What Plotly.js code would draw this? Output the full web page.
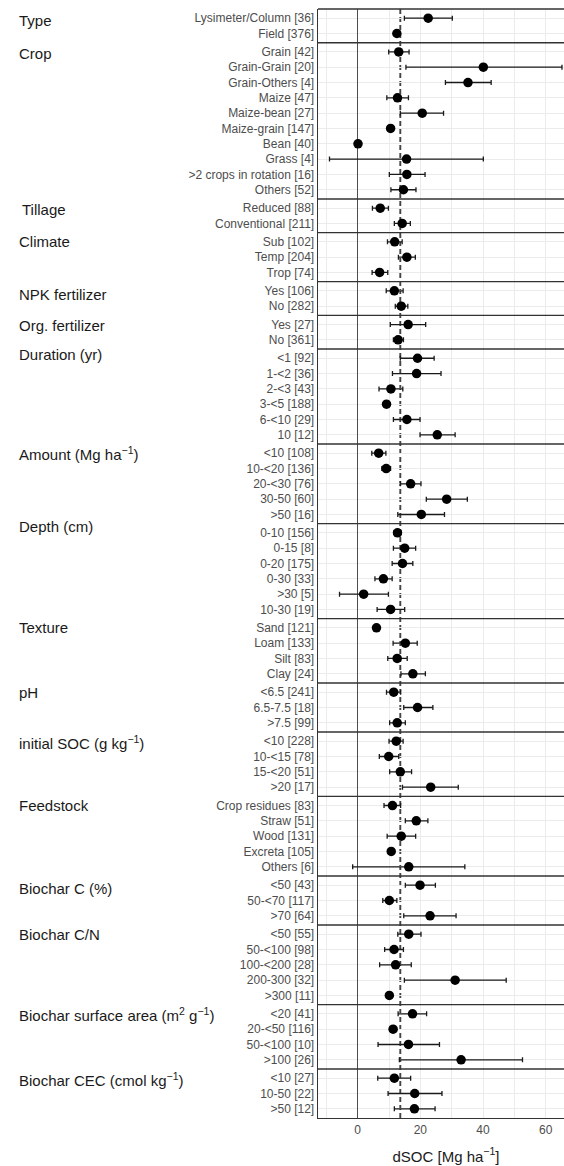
<!DOCTYPE html>
<html><head><meta charset="utf-8">
<script src="https://cdn.plot.ly/plotly-3.0.1.min.js"></script>
<style>html,body{margin:0;padding:0;overflow:hidden;background:#fff;width:564px;height:1166px;} #chart{width:574px;height:1166px;}</style>
</head><body><div id="chart"></div>
<script>
const groups = ["Type","Crop","Tillage","Climate","NPK fertilizer","Org. fertilizer","Duration (yr)",
  "Amount (Mg ha<sup>−1</sup>)","Depth (cm)","Texture","pH","initial SOC (g kg<sup>−1</sup>)","Feedstock",
  "Biochar C (%)","Biochar C/N","Biochar surface area (m<sup>2</sup> g<sup>−1</sup>)","Biochar CEC (cmol kg<sup>−1</sup>)"];
const groupSizes = [2,10,2,3,2,2,6,5,6,4,3,4,5,3,5,4,3];
const categories = [
  "Lysimeter/Column","Field",
  "Grain","Grain-Grain","Grain-Others","Maize","Maize-bean","Maize-grain","Bean","Grass",">2 crops in rotation","Others",
  "Reduced","Conventional",
  "Sub","Temp","Trop",
  "Yes","No",
  "Yes","No",
  "<1","1-<2","2-<3","3-<5","6-<10","10",
  "<10","10-<20","20-<30","30-50",">50",
  "0-10","0-15","0-20","0-30",">30","10-30",
  "Sand","Loam","Silt","Clay",
  "<6.5","6.5-7.5",">7.5",
  "<10","10-<15","15-<20",">20",
  "Crop residues","Straw","Wood","Excreta","Others",
  "<50","50-<70",">70",
  "<50","50-<100","100-<200","200-300",">300",
  "<20","20-<50","50-<100",">100",
  "<10","10-50",">50"];
const counts = [36,376, 42,20,4,47,27,147,40,4,16,52, 88,211, 102,204,74, 106,282, 27,361,
  92,36,43,188,29,12, 108,136,76,60,16, 156,8,175,33,5,19, 121,133,83,24, 241,18,99,
  228,78,51,17, 83,51,131,105,6, 43,117,64, 55,98,28,32,11, 41,116,10,26, 27,22,12];
const meanSOC = [22.5,12.5,
  13.1,40.1,35.2,12.7,20.6,10.5,0.1,15.6,15.7,14.6,
  7.2,14.2,
  11.8,15.7,7.0,
  11.7,13.9,
  16.1,12.9,
  19.1,18.8,10.6,9.2,15.7,25.4,
  6.7,9.1,16.9,28.4,20.3,
  12.7,15.0,14.3,8.2,1.9,10.5,
  6.0,15.2,12.6,17.6,
  11.5,19.1,12.6,
  12.3,9.9,13.6,23.3,
  11.1,18.7,13.9,10.7,16.3,
  19.9,10.1,23.1,
  16.3,11.6,12.1,31.1,10.1,
  17.5,11.3,16.2,33.0,
  11.7,18.2,18.1];
const lowerCI = [14.9,11.5,
  9.9,15.4,28.0,9.3,13.6,9.6,-0.3,-9.0,10.1,10.6,
  4.7,11.7,
  9.5,13.0,4.6,
  9.1,12.0,
  10.4,11.4,
  13.6,11.1,6.8,8.3,11.4,19.9,
  4.5,7.7,13.6,21.9,12.8,
  11.5,11.4,11.0,5.5,-5.8,6.2,
  5.2,11.3,9.6,13.8,
  9.2,14.7,10.2,
  10.0,6.9,10.2,14.3,
  8.4,15.2,9.4,10.1,-1.6,
  15.2,8.0,14.7,
  12.8,8.6,7.0,14.9,9.5,
  12.9,10.2,6.5,13.3,
  6.4,9.7,11.7];
const upperCI = [30.2,13.5,
  16.4,65.2,42.6,16.2,27.4,11.4,0.5,40.1,21.5,18.6,
  9.8,16.8,
  14.2,18.4,9.6,
  14.5,16.0,
  21.7,14.6,
  24.4,26.6,14.4,10.1,19.9,31.1,
  9.0,10.5,20.2,35.0,27.7,
  13.9,18.5,17.6,11.0,9.8,15.0,
  6.8,19.0,15.8,21.6,
  13.7,24.0,15.2,
  14.5,13.1,17.2,32.1,
  13.7,22.4,18.5,11.3,34.2,
  24.8,12.5,31.4,
  20.2,14.6,17.1,47.4,10.7,
  22.0,12.4,26.1,52.6,
  16.9,26.9,24.7];
const overallMean = [13.6];
const xTicks = [0,20,40,60];
const xTitle = "dSOC [Mg ha<sup>−1</sup>]";

// layout helpers
const labelOffsets = [0.16,0.1,0.1,0,0.24,0.09,-0.24,0,-0.43,0,0,0.07,0,0.22,0.04,0.07,0.07];
const labelX = [16.5,16.5,19.8,16.5,16.5,16.5,16.5,16.5,16.5,16.5,16.5,16.5,16.5,16.5,16.5,16.5,16.5];
const ML = 318, W = 574, PW = W - ML;

const esc = s => s.replace(/</g,'&lt;').replace(/>/g,'&gt;');
const pos = [], firstPos = [], sepPos = [];
let idx = 0;
groupSizes.forEach((n, g) => {
  for (let k = 0; k < n; k++) { pos.push(idx + 0.2 * g); idx++; }
  firstPos.push(pos[pos.length - n]);
  sepPos.push(pos[pos.length - 1] + 0.6);
});
const yMax = pos[pos.length - 1] + 0.6;
const tickText = categories.map((c, i) => esc(c) + ' [' + counts[i] + ']');

const trace = {
  type: 'scatter', mode: 'markers',
  x: meanSOC, y: pos,
  marker: {color: '#000', size: 9.5},
  error_x: {type: 'data', symmetric: false,
    array: upperCI.map((u, i) => u - meanSOC[i]),
    arrayminus: lowerCI.map((l, i) => meanSOC[i] - l),
    color: '#1a1a1a', thickness: 1.3, width: 2.5},
  hoverinfo: 'skip', showlegend: false
};

const shapes = [];
sepPos.slice(0, -1).forEach(s => shapes.push({type: 'line', xref: 'paper', x0: 0, x1: 1, yref: 'y', y0: s, y1: s,
  line: {color: '#333', width: 1.4}, layer: 'above'}));
shapes.push({type: 'line', xref: 'paper', x0: 0, x1: 1, yref: 'paper', y0: 1, y1: 1, line: {color: '#333', width: 1.4}});
shapes.push({type: 'line', xref: 'x', x0: overallMean[0], x1: overallMean[0], yref: 'paper', y0: 0, y1: 1,
  line: {color: '#444', width: 1.9, dash: '5px,3px'}, layer: 'below'});

const annotations = groups.map((g, i) => ({
  text: g, xref: 'paper', x: (labelX[i] - ML) / PW, xanchor: 'left',
  yref: 'y', y: firstPos[i] + labelOffsets[i], yanchor: 'middle',
  showarrow: false, font: {size: 15, color: '#1a1a1a', family: 'Liberation Sans, Arial, sans-serif'}
}));

const layout = {
  width: W, height: 1166,
  margin: {l: ML, r: 0, t: 9, b: 48},
  paper_bgcolor: '#fff', plot_bgcolor: '#fff',
  font: {family: 'Liberation Sans, Arial, sans-serif'},
  xaxis: {range: [-12.67, 69.04], tickvals: xTicks, ticks: '', showgrid: true, gridcolor: '#ebebeb', gridwidth: 1,
    minor: {dtick: 10, tick0: 0, showgrid: true, gridcolor: '#ebebeb', gridwidth: 1},
    zeroline: true, zerolinecolor: '#4d4d4d', zerolinewidth: 1.5,
    showline: true, linecolor: '#333', linewidth: 1.4,
    tickfont: {size: 12, color: '#4d4d4d'},
    title: {text: xTitle, font: {size: 15, color: '#1a1a1a'}, standoff: 15}},
  yaxis: {range: [yMax, -0.6], tickvals: pos, ticktext: tickText, ticks: '',
    showgrid: true, gridcolor: '#ebebeb', gridwidth: 1, zeroline: false,
    showline: true, linecolor: '#333', linewidth: 1.4,
    tickfont: {size: 12, color: '#4d4d4d'}},
  shapes: shapes, annotations: annotations
};
Plotly.newPlot('chart', [trace], layout, {staticPlot: true, displayModeBar: false});
</script></body></html>
